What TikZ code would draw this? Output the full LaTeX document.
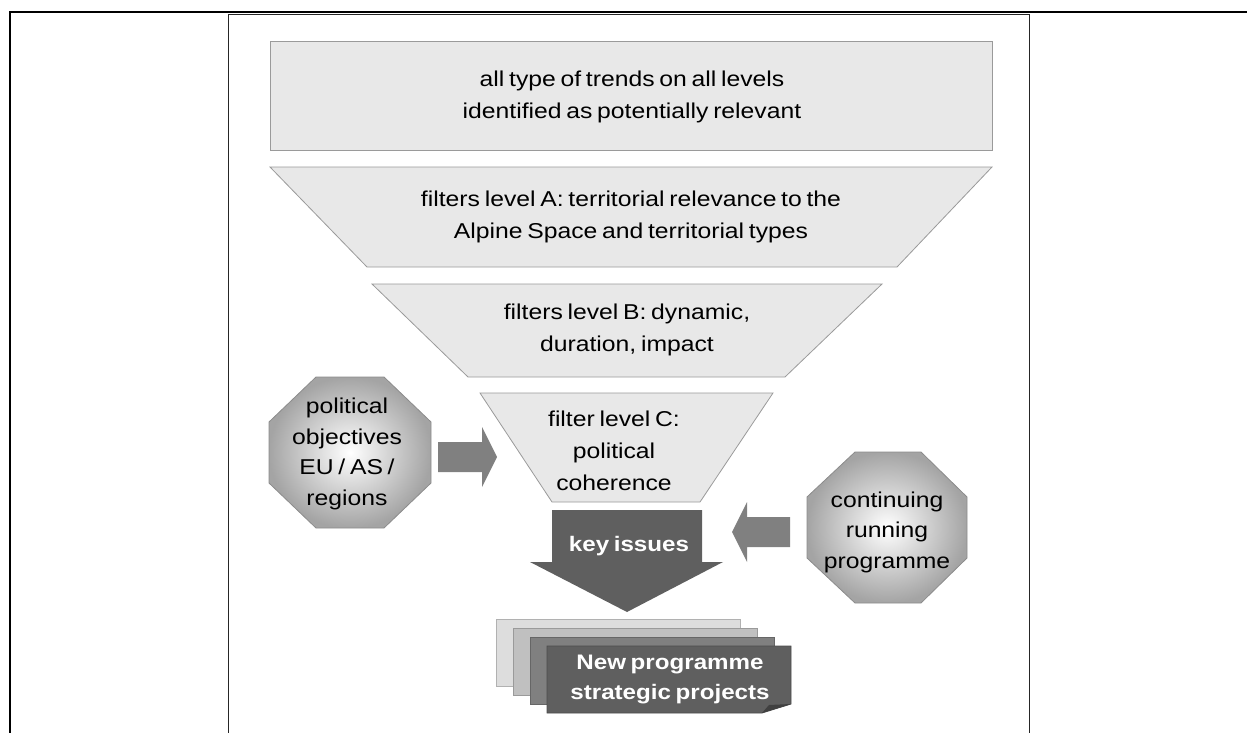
\documentclass[tikz,border=0pt]{standalone}
\usepackage{fontspec}
\setmainfont{Liberation Sans}[FakeStretch=1.15]
\newcommand\tightwords{\spaceskip=.22em\relax}

\definecolor{funnelfill}{HTML}{E8E8E8}
\definecolor{funnelline}{HTML}{9A9A9A}
\definecolor{arrowgray}{HTML}{808080}
\definecolor{keygray}{HTML}{5F5F5F}
\definecolor{octedge}{HTML}{A4A4A4}
\definecolor{octline}{HTML}{8C8C8C}
\definecolor{pageA}{HTML}{DDDDDD}
\definecolor{pageB}{HTML}{C0C0C0}
\definecolor{pageC}{HTML}{808080}

\tikzset{
  funnel/.style={fill=funnelfill, draw=funnelline, line width=.8pt},
  octagon/.style={shading=radial, inner color=white, outer color=octedge, draw=octline, line width=.8pt},
  blockarrow/.style={fill=arrowgray},
  plain text/.style={font=\fontsize{21.5}{32}\selectfont\tightwords, align=center},
  oct text/.style={font=\fontsize{21.5}{30.5}\selectfont\tightwords, align=center},
  white text/.style={font=\fontsize{21}{30}\selectfont\bfseries\tightwords, text=white, align=center},
  page/.style={draw=#1!80!black, fill=#1, line width=.8pt}
}

\begin{document}
\begin{tikzpicture}[x=1pt, y=-1pt]
\useasboundingbox (0,0) rectangle (1247,733);

% frame
\draw [line width=2pt] (9,12)--(1247,12);
\draw [line width=2pt] (10,12)--(10,733);
\draw [line width=1pt, black!85] (228,733)--(228,15)--(1029,15)--(1029,733);

% funnel
\draw [funnel] (270,41) rectangle (992,150);
\draw [funnel] (270,167)--(992,167)--(897,267)--(367,267)--cycle;
\draw [funnel] (372,284)--(882,284)--(785,377)--(468,377)--cycle;
\draw [funnel] (480,393)--(773,393)--(700,502)--(552,502)--cycle;

\node [plain text] (trends) at (632,97) {all type of trends on all levels\\identified as potentially relevant};
\node [plain text] (levelA) at (631,217) {filters level A: territorial relevance to the\\Alpine Space and territorial types};
\node [plain text] (levelB) at (627,330) {filters level B: dynamic,\\duration, impact};
\node [plain text] (levelC) at (614,451) {filter level C:\\political\\coherence};

% side inputs
\draw [octagon] (316,377)--(384,377)--(431,422)--(431,483)--(384,528)--(316,528)--(269,483)--(269,422)--cycle;
\node [oct text] (objectives) at (347,454) {political\\objectives\\EU / AS /\\regions};
\draw [octagon] (855,452)--(921,452)--(967,497)--(967,558)--(921,603)--(855,603)--(807,558)--(807,497)--cycle;
\node [oct text] (running) at (887,532) {continuing\\running\\programme};

\fill [blockarrow] (438,442)--(482,442)--(482,427)--(497,457)--(482,487)--(482,472)--(438,472)--cycle;
\fill [blockarrow] (790,517)--(747,517)--(747,502)--(732,532)--(747,562)--(747,547)--(790,547)--cycle;

% key issues
\fill [keygray] (552,510)--(702,510)--(702,562)--(723,562)--(627,612)--(530,562)--(552,562)--cycle;
\node [white text] (issues) at (629,546) {key issues};

% stack of projects
\draw [page=pageA] (496,619) rectangle (740,686);
\draw [page=pageB] (513,628) rectangle (757,695);
\draw [page=pageC] (530,637) rectangle (774,704);
\draw [page=keygray] (547,646)--(791,646)--(791,704)--(762,713)--(547,713)--cycle;
\fill [black!75] (762,713)--(791,704)--(769,705)--cycle;
\node [white text] (projects) at (670,679) {New programme\\strategic projects};
\end{tikzpicture}
\end{document}
